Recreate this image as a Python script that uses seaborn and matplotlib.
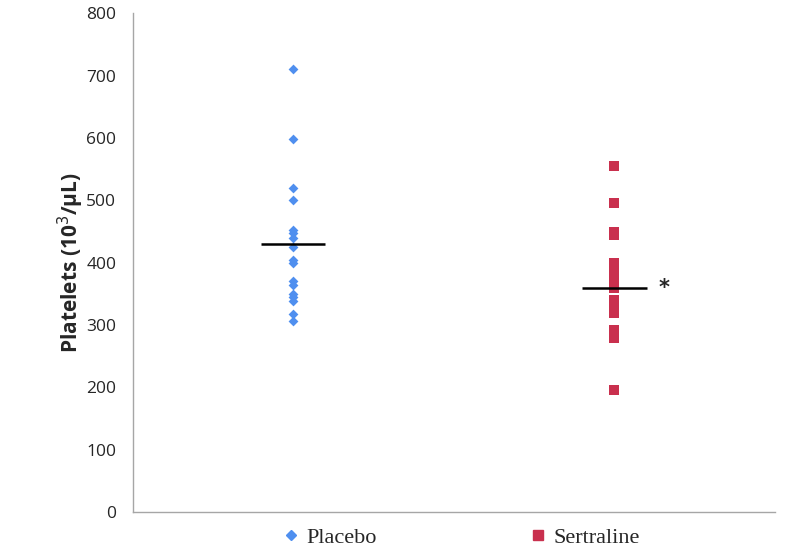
import pandas as pd
import matplotlib.pyplot as plt
import seaborn as sns
from matplotlib.lines import Line2D

# data
groups = ["Placebo", "Sertraline"]
placebo = [711, 598, 520, 500, 452, 447, 440, 425, 405, 400,
           370, 365, 350, 345, 338, 318, 307]
sertraline = [555, 495, 450, 445, 400, 390, 375, 360, 340, 330,
              320, 292, 280, 196]
means = [430, 360]
colors = ["#4F8FEF", "#C9304E"]
markers = ["D", "s"]

df = pd.DataFrame({
    "Group": ["Placebo"] * len(placebo) + ["Sertraline"] * len(sertraline),
    "Platelets": placebo + sertraline,
})

sns.set_style("white")
fig = plt.figure(figsize=(7.86, 5.49), dpi=100)
ax = fig.add_axes([0.169, 0.067, 0.817, 0.909])

for i, g in enumerate(groups):
    sns.stripplot(data=df[df["Group"] == g], x="Group", y="Platelets",
                  order=groups, jitter=False, marker=markers[i],
                  color=colors[i], size=5 if i == 0 else 6.5,
                  linewidth=0, ax=ax)

# mean lines
for i, m in enumerate(means):
    ax.hlines(m, i - 0.1, i + 0.1, color="black", lw=1.8, zorder=5)
ax.text(1.155, means[1], "*", fontsize=15, fontweight="bold", ha="center",
        va="center", family="DejaVu Sans")

ax.set_xlim(-0.5, 1.5)
ax.set_ylim(0, 800)
ax.set_yticks(range(0, 801, 100))
ax.set_xticks([])
ax.set_xlabel("")
ax.set_ylabel("Platelets (10$^3$/μL)", fontsize=15, fontweight="bold",
              family="Open Sans", labelpad=0)
for lab in ax.get_yticklabels():
    lab.set_family("Open Sans")
    lab.set_fontsize(12.5)
ax.tick_params(axis="y", length=0, pad=12)

sns.despine(ax=ax, top=True, right=True)
for s in ["left", "bottom"]:
    ax.spines[s].set_color("#A6A6A6")
    ax.spines[s].set_linewidth(1.0)

handles = [Line2D([], [], marker=markers[i], color=colors[i], linestyle="",
                  markersize=5 if i == 0 else 6.5) for i in range(2)]
fig.legend(handles, groups, loc="lower center", ncol=2, frameon=False,
           bbox_to_anchor=(0.5835, -0.035), columnspacing=6.65, handletextpad=0.1,
           handlelength=1.2, prop={"family": "Liberation Serif", "size": 16})

fig.savefig("out.png", dpi=100)
